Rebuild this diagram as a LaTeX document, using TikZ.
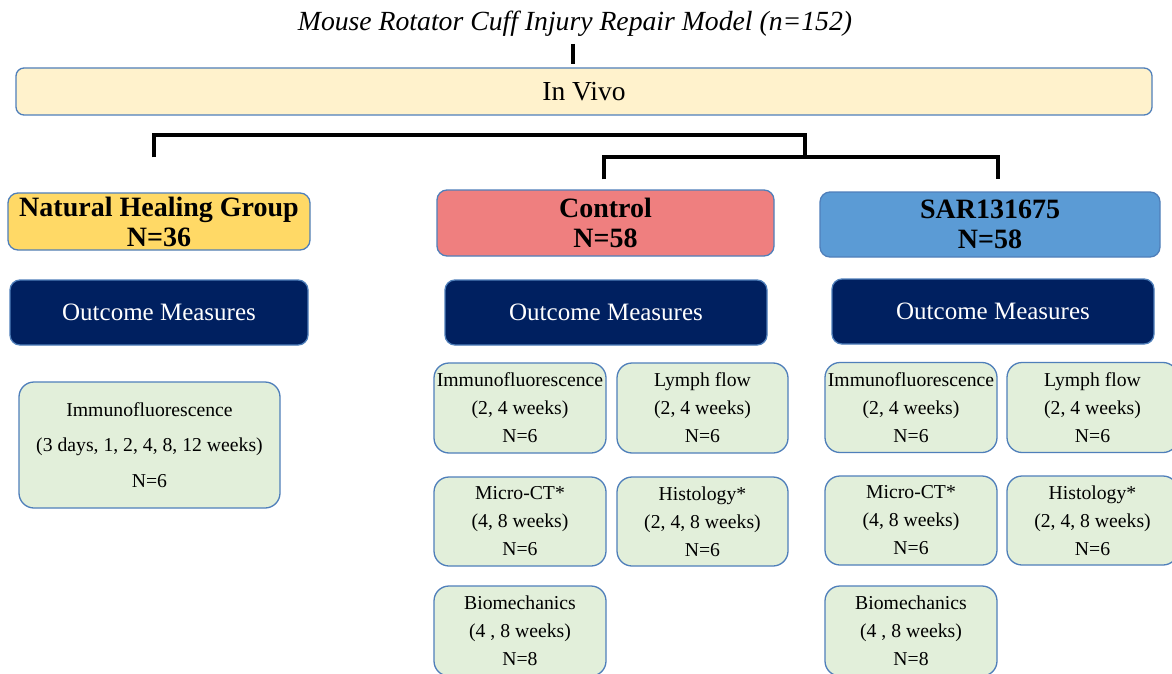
\documentclass[tikz,border=0pt]{standalone}
\usepackage{fontspec}
\setmainfont{Liberation Serif}
\definecolor{bordc}{HTML}{4F7FBA}
\definecolor{cream}{HTML}{FFF2CC}
\definecolor{gold}{HTML}{FFD966}
\definecolor{salmon}{HTML}{EF7F7F}
\definecolor{sarblue}{HTML}{5B9BD5}
\definecolor{navy}{HTML}{002060}
\definecolor{mint}{HTML}{E2EFDA}
\begin{document}
\begin{tikzpicture}[x=1pt,y=-1pt,
  frame/.style={draw=bordc, line width=1.3pt, inner sep=0pt, align=center},
  grp/.style={frame, rounded corners=10pt, font=\fontsize{28}{30}\selectfont\bfseries},
  outc/.style={frame, fill=navy, rounded corners=10pt, text=white, minimum height=65pt, minimum width=322pt, font=\fontsize{25}{28}\selectfont},
  meas/.style={frame, fill=mint, rounded corners=15pt, minimum width=172pt, minimum height=90pt, font=\fontsize{19.7}{28}\selectfont},
  link/.style={line width=3.2pt, black}]
\useasboundingbox (0,0) rectangle (1172,674);
\clip (0,0) rectangle (1172,674);
\fill[white] (0,0) rectangle (1172,674);

\node[font=\fontsize{27.7}{30}\selectfont\itshape] (title) at (575,23.5) {Mouse Rotator Cuff Injury Repair Model (n=152)};
\node[frame, fill=cream, rounded corners=8pt, minimum width=1136pt, minimum height=47pt, font=\fontsize{27.5}{30}\selectfont] (vivo) at (584,91.5) {In Vivo};
\coordinate (t1) at (573,44);
\coordinate (t2) at (573,64);
\draw[link] (t1) -- (t2);

\node[grp, fill=gold, minimum width=302pt, minimum height=57pt] (nhg) at (159,221.5) {Natural Healing Group\\N=36};
\node[grp, fill=salmon, minimum width=337pt, minimum height=66pt] (ctrl) at (605.5,223) {Control\\N=58};
\node[grp, fill=sarblue, minimum width=340pt, minimum height=65pt] (sar) at (990,224.5) {SAR131675\\N=58};

\coordinate (b1) at (805,135);
\coordinate (b2) at (805,157);
\draw[link] ([xshift=-5pt,yshift=35pt]nhg.north) |- (b1) -- (b2);
\draw[link] ([xshift=-1.5pt,yshift=10pt]ctrl.north) |- (b2) -| ([xshift=8pt,yshift=12pt]sar.north);

\node[outc, minimum width=298pt] (onhg) at (159,312.5) {Outcome Measures};
\node[outc] (octrl) at (606,312.5) {Outcome Measures};
\node[outc] (osar) at (993,311.5) {Outcome Measures};

\node[meas, minimum width=261pt, minimum height=126pt, font=\fontsize{19.7}{35.5}\selectfont] (nimm) at (149.5,445) {Immunofluorescence\\(3 days, 1, 2, 4, 8, 12 weeks)\\N=6};

\node[meas] (cimm) at (520,408) {Immunofluorescence\\(2, 4 weeks)\\N=6};
\node[meas, minimum width=171pt] (clym) at (702.5,408) {Lymph flow\\(2, 4 weeks)\\N=6};
\node[meas, minimum height=89pt] (cct) at (520,521.5) {Micro-CT*\\(4, 8 weeks)\\N=6};
\node[meas, minimum width=171pt, minimum height=89pt] (chis) at (702.5,521.5) {Histology*\\(2, 4, 8 weeks)\\N=6};
\node[meas] (cbio) at (520,631) {Biomechanics\\(4 , 8 weeks)\\N=8};

\node[meas] (simm) at (911,407.5) {Immunofluorescence\\(2, 4 weeks)\\N=6};
\node[meas, minimum width=171pt] (slym) at (1092.5,407.5) {Lymph flow\\(2, 4 weeks)\\N=6};
\node[meas, minimum height=89pt] (sct) at (911,520.5) {Micro-CT*\\(4, 8 weeks)\\N=6};
\node[meas, minimum width=171pt, minimum height=89pt] (shis) at (1092.5,520.5) {Histology*\\(2, 4, 8 weeks)\\N=6};
\node[meas] (sbio) at (911,631) {Biomechanics\\(4 , 8 weeks)\\N=8};
\end{tikzpicture}
\end{document}
